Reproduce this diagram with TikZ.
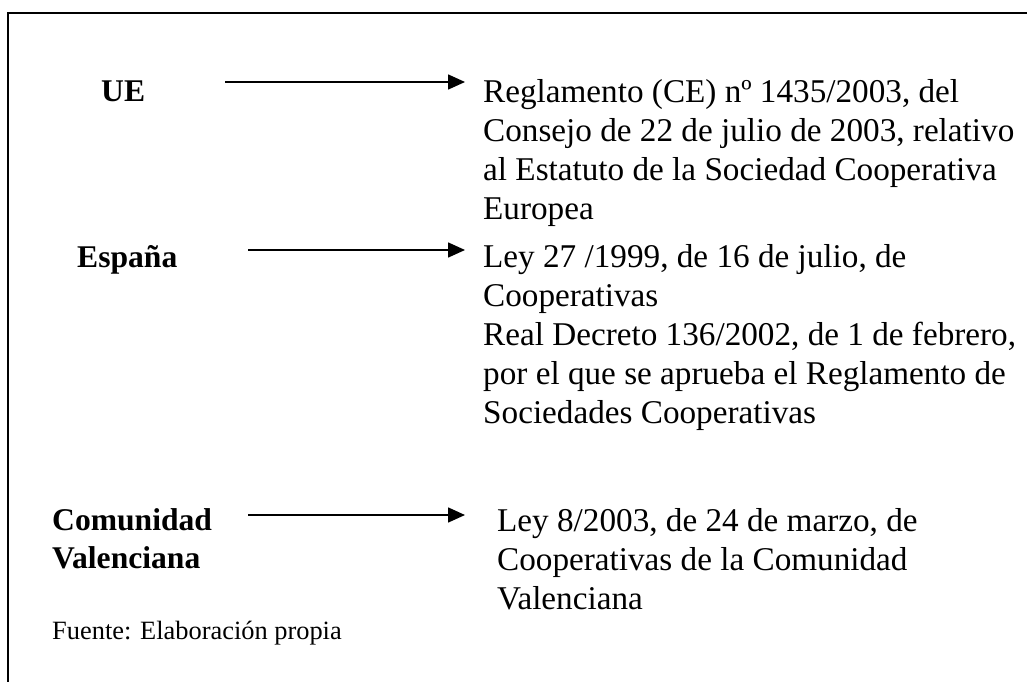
\documentclass[tikz,border=0pt]{standalone}
\usepackage{fontspec}
\setmainfont{Liberation Serif}
\usepackage{tikz}
\usetikzlibrary{arrows.meta,positioning,calc}

\begin{document}
\begin{tikzpicture}[
    x=1pt, y=-1pt,
    nivel/.style={
        anchor=base west, inner sep=0pt, align=left,
        font=\fontsize{31.6}{38}\selectfont\bfseries
    },
    norma/.style={
        anchor=base west, inner sep=0pt, align=left,
        font=\fontsize{33.2}{39}\selectfont
    },
    flecha/.style={-{Triangle[length=17pt,width=15pt]}, line width=1.6pt, shorten >=18pt},
    marco/.style={line width=2pt}
]
\useasboundingbox (0,0) rectangle (1027,682);

% Open frame (top and left sides)
\draw[marco] (1027,13) -- (8,13) -- (8,682);

% Levels (left column), placed by the baseline of the last line
\node[nivel] (ue) at (101,102) {UE};
\node[nivel] (espana) at (77,267) {España};
\node[nivel] (comunidad) at (52,568) {Comunidad\\Valenciana};

% Rules (right column), placed by the baseline of the last line
\node[norma] (reglamento) at (483,219) {Reglamento (CE) nº 1435/2003, del\\Consejo de 22 de julio de 2003, relativo\\al Estatuto de la Sociedad Cooperativa\\Europea};
\node[norma] (ley) at (483,423) {Ley 27 /1999, de 16 de julio, de\\Cooperativas\\Real Decreto 136/2002, de 1 de febrero,\\por el que se aprueba el Reglamento de\\Sociedades Cooperativas};
\node[norma] (leyvalenciana) at (497,609) {Ley 8/2003, de 24 de marzo, de\\Cooperativas de la Comunidad\\Valenciana};

% Source
\node[anchor=base west, inner sep=0pt, font=\fontsize{26.4}{30}\selectfont] (fuente) at (52,639) {Fuente: Elaboración propia};

% Arrows
\coordinate (c1) at (225,82);
\coordinate (c2) at (248,250);
\coordinate (c3) at (248,515);
\draw[flecha] (c1) -- (c1 -| reglamento.west);
\draw[flecha] (c2) -- (c2 -| ley.west);
\draw[flecha, shorten >=32pt] (c3) -- (c3 -| leyvalenciana.west);

\end{tikzpicture}
\end{document}
